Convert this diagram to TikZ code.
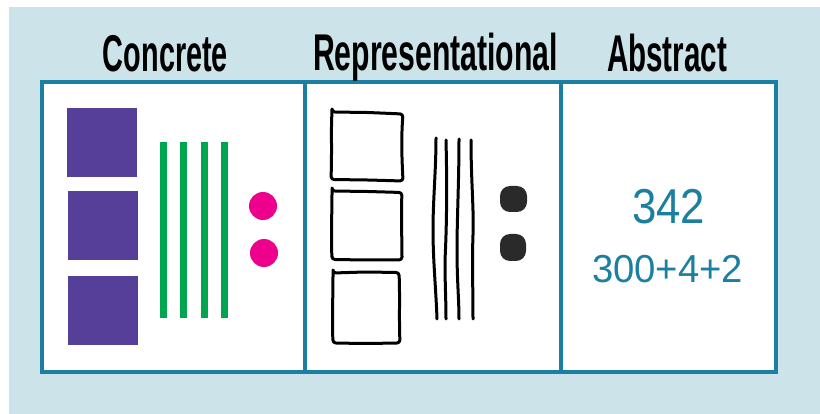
\documentclass[tikz,border=0pt]{standalone}
\usepackage{fontspec}
\setmainfont{Liberation Sans}
\definecolor{bgblue}{HTML}{CCE3EA}
\definecolor{teal}{HTML}{1A7FA0}
\definecolor{cpurple}{HTML}{553F99}
\definecolor{cgreen}{HTML}{00A550}
\definecolor{cpink}{HTML}{EC008C}
\definecolor{cdark}{HTML}{2A2A2A}
\newcommand{\fitw}[2]{\resizebox{#1}{\height}{#2}}
\begin{document}
\begin{tikzpicture}[x=1pt,y=-1pt,
  title/.style={anchor=base,inner sep=0pt,font=\fontsize{51.7}{60}\selectfont\bfseries,text=black},
  num/.style={anchor=base,inner sep=0pt,text=teal},
  psq/.style={fill=cpurple,draw=none,minimum width=70pt,minimum height=69pt,inner sep=0pt},
  gline/.style={draw=cgreen,line width=7pt},
  pdot/.style={circle,fill=cpink,minimum size=28pt,inner sep=0pt},
  hand/.style={draw=black,line width=3pt,rounded corners=3pt,line join=round,line cap=round},
  hline/.style={draw=black,line width=3pt,line cap=round},
  ddot/.style={fill=cdark,rounded corners=10pt,draw=none},
  frame/.style={draw=teal,line width=4pt}]
\useasboundingbox (0,0) rectangle (820,414);
\fill[white] (0,0) rectangle (820,414);
\fill[bgblue] (9,7) rectangle (820,414);
% panel
\fill[white] (42,82) rectangle (776,372);
\draw[frame] (42,82) rectangle (776,372);
\draw[frame] (305,82) -- (305,372);
\draw[frame] (561,82) -- (561,372);
% titles
\node[title] (t1) at (165.5,72) {\fitw{125pt}{Concrete}};
\node[title] (t2) at (435.5,71) {\fitw{245pt}{Representational}};
\node[title] (t3) at (667,72) {\fitw{120pt}{Abstract}};
% concrete
\node[psq] (p1) at (102,142.5) {};
\node[psq] (p2) at (102.5,225.5) {};
\node[psq] (p3) at (102.5,311) {};
\draw[gline] (163,142) -- (163,318);
\draw[gline] (183.5,142) -- (183.5,318);
\draw[gline] (204,142) -- (204,318);
\draw[gline] (224,142) -- (224,318);
\node[pdot] (d1) at (263,206) {};
\node[pdot] (d2) at (264,253) {};
% representational
\draw[hand] (332,112) -- (368,112.5) -- (403,114) .. controls (401,140) and (402,160) .. (403,181) -- (368,180) -- (331,179.5) .. controls (332,150) and (331,130) .. cycle;
\draw[hand] (332,191) -- (368,191.5) -- (402,192.5) .. controls (401,215) and (402,240) .. (402,260) -- (368,260) -- (332,259.5) .. controls (331,235) and (332,210) .. cycle;
\draw[hand] (333,273) -- (365,272) -- (399,272.5) .. controls (400,295) and (399,320) .. (400,343) -- (365,343.5) -- (333,343) .. controls (332,320) and (333,295) .. cycle;
\draw[hline] (436,138) .. controls (436,170) and (433,200) .. (433,230) .. controls (433,260) and (436,290) .. (437,319);
\draw[hline] (446,140) .. controls (447,180) and (447,220) .. (445,260) .. controls (445,285) and (446,300) .. (446,319);
\draw[hline] (459,139) .. controls (459,180) and (457,220) .. (457,250) .. controls (457,280) and (459,300) .. (459,319);
\draw[hline] (471,140) .. controls (471,180) and (474,210) .. (473,235) .. controls (472,260) and (473,290) .. (473,319);
\draw[ddot] (500,186) rectangle (527,212);
\draw[ddot] (500,234) rectangle (526,261);
% abstract
\node[num] (n1) at (668.5,224) {\fitw{73pt}{\fontsize{49}{56}\selectfont 342}};
\node[num] (n2) at (667.5,283) {\fitw{151pt}{\fontsize{39}{46}\selectfont 300+4+2}};
\end{tikzpicture}
\end{document}
